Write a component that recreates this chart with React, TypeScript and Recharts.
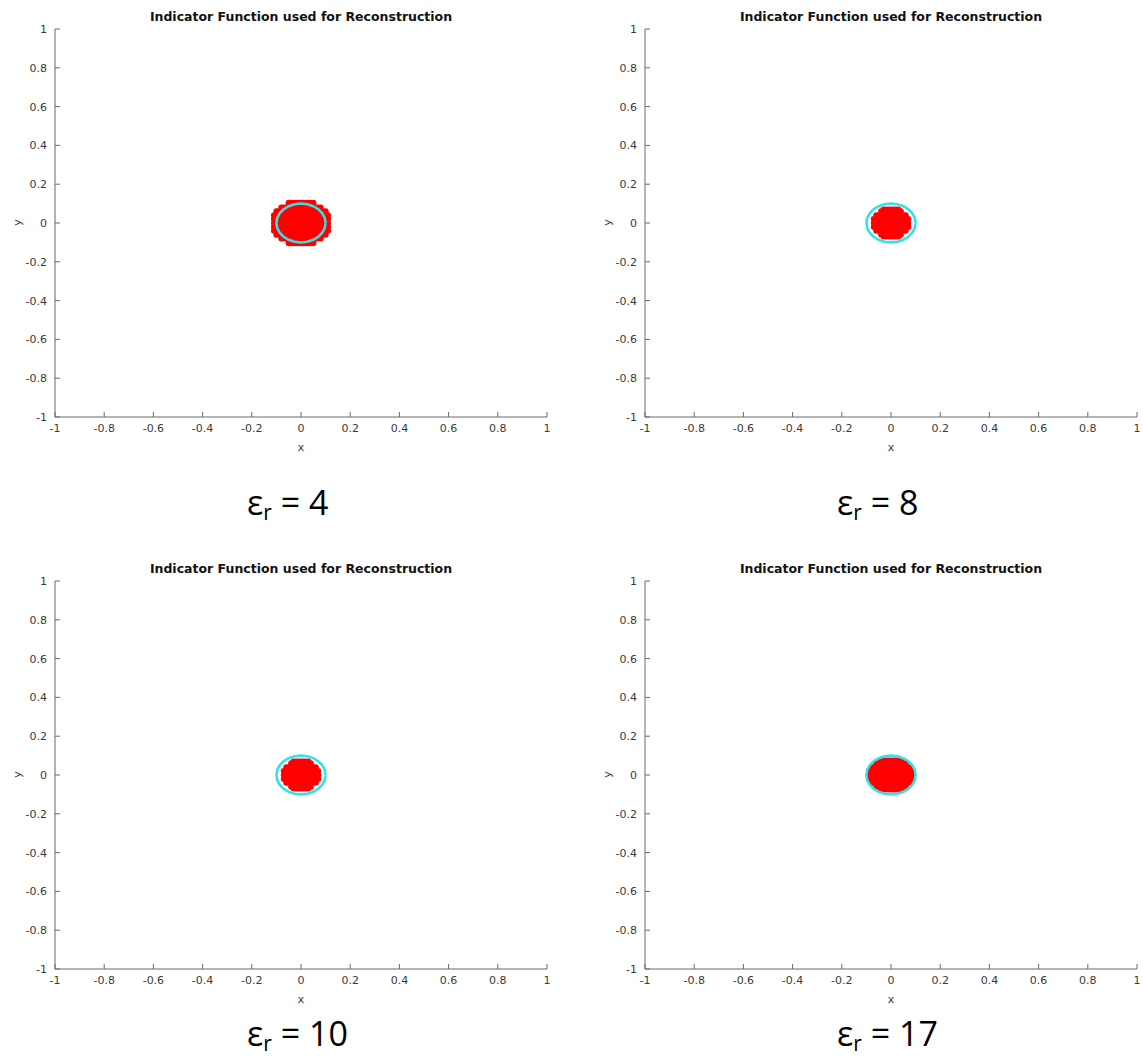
import React from 'react';
import { ScatterChart, Scatter, XAxis, YAxis } from 'recharts';

// relative permittivity of each reconstruction
const permittivities = [4, 8, 10, 17];

const axisTicks = [-1, -0.8, -0.6, -0.4, -0.2, 0, 0.2, 0.4, 0.6, 0.8, 1];

// red indicator cells, read row by row: [|y|, half width in x]
const blobRows4 = [[0, 0.11], [0.02, 0.11], [0.04, 0.11], [0.06, 0.1], [0.08, 0.08], [0.1, 0.05], [0.105, 0.05]];
const blobRows8 = [[0, 0.07], [0.02, 0.07], [0.04, 0.06], [0.06, 0.04], [0.07, 0.03]];
const blobRows10 = [[0, 0.07], [0.02, 0.07], [0.04, 0.06], [0.06, 0.04], [0.07, 0.03]];
const blobRows17 = [[0, 0.09], [0.02, 0.09], [0.04, 0.08], [0.06, 0.06], [0.075, 0.04]];

// true object outline, radius 0.1 (one quadrant, 15 degree steps)
const outlineX = [0.1, 0.0966, 0.0866, 0.0707, 0.05, 0.0259, 0];
const outlineY = [0, 0.0259, 0.05, 0.0707, 0.0866, 0.0966, 0.1];

type Pt = { x: number; y: number };

const gridStep = 0.01;

function expandRows(rows: number[][]): Pt[] {
    const pts: Pt[] = [];
    rows.forEach(([ay, hw]) => {
        const ys = ay === 0 ? [0] : [ay, -ay];
        ys.forEach((y) => {
            const n = Math.round(hw / gridStep);
            for (let i = -n; i <= n; i++) {
                pts.push({ x: i * gridStep, y });
            }
        });
    });
    return pts;
}

// mirror the quadrant into a closed ring
const ring: Pt[] = (() => {
    const q1 = outlineX.map((x, i) => ({ x, y: outlineY[i] }));
    const q2 = q1.slice(0, -1).reverse().map((p) => ({ x: -p.x, y: p.y }));
    const q34 = [...q1, ...q2].slice(1).reverse().map((p) => ({ x: p.x, y: -p.y }));
    return [...q1, ...q2, ...q34.slice(1), q1[0]];
})();

const fmt = (v: number) => String(Number(v.toFixed(1)));

const AXIS = '#6a6a6a';
const TEXT = '#3a3a3a';
const FONT = 'DejaVu Sans, sans-serif';

function YTick(props: any) {
    const { x, y, payload } = props;
    return (
        <g>
            <line x1={x + 8} y1={y} x2={x + 13} y2={y} stroke={AXIS} strokeWidth={1} />
            <text x={x} y={y} dy={4} textAnchor="end" fontSize={11} fill={TEXT} fontFamily={FONT}>
                {fmt(payload.value)}
            </text>
        </g>
    );
}

function XTick(props: any) {
    const { x, y, payload } = props;
    return (
        <g>
            <line x1={x} y1={y - 7} x2={x} y2={y - 12} stroke={AXIS} strokeWidth={1} />
            <text x={x} y={y} dy={8} textAnchor="middle" fontSize={11} fill={TEXT} fontFamily={FONT}>
                {fmt(payload.value)}
            </text>
        </g>
    );
}

const redDot = (p: any) => <circle cx={p.cx} cy={p.cy} r={3} fill="#ff0000" />;

interface PanelProps {
    left: number;
    top: number;
    eps: number;
    rows: number[][];
    epsTop: number;
}

function Panel({ left, top, eps, rows, epsTop }: PanelProps) {
    return (
        <>
            <div
                style={{
                    position: 'absolute', left: left + 55, top: top + 9, width: 492, textAlign: 'center',
                    fontFamily: FONT, fontWeight: 'bold', fontSize: 12.5, color: '#111',
                }}
            >
                Indicator Function used for Reconstruction
            </div>
            <div
                style={{
                    position: 'absolute', left: left + 14, top: top + 216, fontFamily: FONT, fontSize: 11,
                    color: TEXT, transform: 'rotate(-90deg)',
                }}
            >
                y
            </div>
            <div style={{ position: 'absolute', left, top }}>
                <ScatterChart width={553} height={460} margin={{ top: 29, right: 6, bottom: 0, left: 0 }}>
                    <XAxis
                        type="number"
                        dataKey="x"
                        domain={[-1, 1]}
                        ticks={axisTicks}
                        allowDataOverflow
                        stroke={AXIS}
                        tickLine={false}
                        tickSize={0}
                        tickMargin={7}
                        tick={<XTick />}
                        height={43}
                        label={{ value: 'x', position: 'insideBottom', offset: 9, fill: TEXT, fontSize: 11, fontFamily: FONT }}
                    />
                    <YAxis
                        type="number"
                        dataKey="y"
                        domain={[-1, 1]}
                        ticks={axisTicks}
                        allowDataOverflow
                        stroke={AXIS}
                        tickLine={false}
                        tickSize={0}
                        tickMargin={8}
                        tick={<YTick />}
                        width={55}
                    />
                    <Scatter data={expandRows(rows)} shape={redDot} isAnimationActive={false} />
                    <Scatter
                        data={ring}
                        line={{ stroke: '#30e2e8', strokeWidth: 2.5 }}
                        lineType="joint"
                        shape={() => <g />}
                        isAnimationActive={false}
                    />
                </ScatterChart>
            </div>
            <div
                style={{
                    position: 'absolute', left: left + 247, top: epsTop, fontFamily: 'Open Sans, sans-serif',
                    fontSize: 34, lineHeight: '40px', color: '#000', whiteSpace: 'nowrap',
                }}
            >
                ε<sub style={{ fontSize: '0.62em', verticalAlign: '-0.25em', lineHeight: 1 }}>r</sub> = {eps}
            </div>
        </>
    );
}

export default function App() {
    return (
        <div style={{ position: 'absolute', left: 0, top: 0, width: 1143, height: 1059, background: '#fff', overflow: 'hidden' }}>
            <Panel left={0} top={0} eps={permittivities[0]} rows={blobRows4} epsTop={482} />
            <Panel left={590} top={0} eps={permittivities[1]} rows={blobRows8} epsTop={482} />
            <Panel left={0} top={552} eps={permittivities[2]} rows={blobRows10} epsTop={1013} />
            <Panel left={590} top={552} eps={permittivities[3]} rows={blobRows17} epsTop={1013} />
        </div>
    );
}
